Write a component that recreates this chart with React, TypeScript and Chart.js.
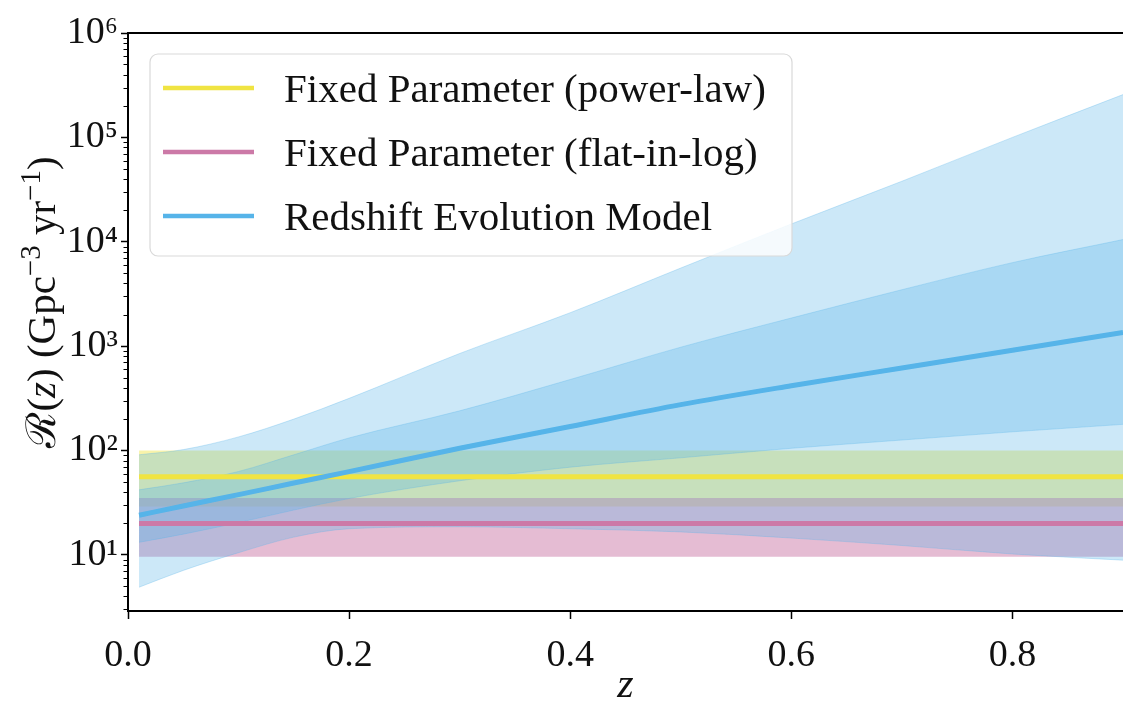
import React, { useEffect, useRef } from 'react';
import { Chart, registerables } from 'chart.js';

Chart.register(...registerables);

// ---------- data ----------
const zGrid = [0.01, 0.05, 0.1, 0.15, 0.2, 0.3, 0.4, 0.5, 0.6, 0.7, 0.8, 0.9];

const powerLawMedian = [56, 56, 56, 56, 56, 56, 56, 56, 56, 56, 56, 56];
const powerLawLow = [29, 29, 29, 29, 29, 29, 29, 29, 29, 29, 29, 29];
const powerLawHigh = [100, 100, 100, 100, 100, 100, 100, 100, 100, 100, 100, 100];

const flatLogMedian = [20, 20, 20, 20, 20, 20, 20, 20, 20, 20, 20, 20];
const flatLogLow = [9.6, 9.6, 9.6, 9.6, 9.6, 9.6, 9.6, 9.6, 9.6, 9.6, 9.6, 9.6];
const flatLogHigh = [35, 35, 35, 35, 35, 35, 35, 35, 35, 35, 35, 35];

const redshiftMedian = [24, 29.4, 37.8, 48.8, 62.8, 105, 170, 275, 417, 617, 912, 1350];
const redshiftInnerLow = [13.2, 15.8, 20.4, 26.9, 34.7, 51.3, 69.2, 85.1, 105, 126, 151, 178];
const redshiftInnerHigh = [42, 49, 63, 91, 132, 240, 479, 977, 1860, 3470, 6310, 10500];
const redshiftOuterLow = [4.9, 7.1, 10.5, 14.8, 17.8, 18.6, 17.8, 16.6, 14.5, 12.3, 10.2, 8.9];
const redshiftOuterHigh = [91, 102, 135, 200, 316, 850, 2090, 5600, 14800, 38000, 100000, 257000];

const seriesNames = [
  'Fixed Parameter (power-law)',
  'Fixed Parameter (flat-in-log)',
  'Redshift Evolution Model',
];

const xTickValues = [0, 0.2, 0.4, 0.6, 0.8];
const yMajorTickValues = [10, 100, 1000, 10000, 100000, 1000000];
const yMinorMultipliers = [2, 3, 4, 5, 6, 7, 8, 9];
const yMinorDecades = [1, 10, 100, 1000, 10000, 100000];

const xTitle = 'z';
// y-axis title pieces: [text, kind] where kind: n = normal, i = italic, s = superscript
const yTitleParts: [string, string][] = [
  ['ℛ', 'n'], ['(', 'n'], ['z', 'i'], [') (Gpc', 'n'], ['−3', 's'], [' yr', 'n'], ['−1', 's'], [')', 'n'],
];

// ---------- styles ----------
const YELLOW = '#F0E442';
const PINK = '#CC79A7';
const BLUE = '#56B4E9';
const yellowFill = 'rgba(240,228,66,0.45)';
const pinkFill = 'rgba(204,121,167,0.5)';
const blueFill = 'rgba(86,180,233,0.3)';
const FONT = "'Liberation Serif', 'Times New Roman', 'DejaVu Serif', serif";

const SUP: Record<string, string> = {
  '0': '⁰', '1': '¹', '2': '²', '3': '³', '4': '⁴', '5': '⁵', '6': '⁶', '7': '⁷', '8': '⁸', '9': '⁹', '-': '⁻',
};
const toSup = (s: string) => s.split('').map((c) => SUP[c] || c).join('');

const pts = (vals: number[]) => zGrid.map((z, i) => ({ x: z, y: vals[i] }));

const extrasPlugin = {
  id: 'extras',
  afterDraw(chart: any) {
    const { ctx, chartArea } = chart;
    const ys = chart.scales.y;
    ctx.save();
    // minor ticks
    ctx.strokeStyle = '#000';
    ctx.lineWidth = 1;
    for (const d of yMinorDecades) {
      for (const m of yMinorMultipliers) {
        const v = d * m;
        if (v < ys.min || v > ys.max) continue;
        const p = Math.round(ys.getPixelForValue(v)) + 0.5;
        ctx.beginPath();
        ctx.moveTo(chartArea.left - 4.5, p);
        ctx.lineTo(chartArea.left, p);
        ctx.stroke();
      }
    }
    // top spine
    ctx.lineWidth = 2;
    ctx.beginPath();
    ctx.moveTo(chartArea.left - 1, chartArea.top);
    ctx.lineTo(chartArea.right, chartArea.top);
    ctx.stroke();

    // y-axis title (rotated, mixed styles)
    const fontFor = (k: string) =>
      k === 'i' ? `italic 41px ${FONT}` : k === 's' ? `29px ${FONT}` : `41px ${FONT}`;
    let total = 0;
    for (const [t, k] of yTitleParts) { ctx.font = fontFor(k); total += ctx.measureText(t).width; }
    ctx.translate(42, 302);
    ctx.rotate(-Math.PI / 2);
    ctx.fillStyle = '#111';
    ctx.textBaseline = 'alphabetic';
    ctx.textAlign = 'left';
    let cx = -total / 2;
    for (const [t, k] of yTitleParts) {
      ctx.font = fontFor(k);
      ctx.fillText(t, cx, k === 's' ? 13 - 15 : 13);
      cx += ctx.measureText(t).width;
    }
    ctx.setTransform(1, 0, 0, 1, 0, 0);

    // legend
    const bx = chartArea.left + 22;
    const by = chartArea.top + 21;
    const bw = 642;
    const bh = 202;
    const r = 8;
    ctx.beginPath();
    ctx.moveTo(bx + r, by);
    ctx.lineTo(bx + bw - r, by);
    ctx.arcTo(bx + bw, by, bx + bw, by + r, r);
    ctx.lineTo(bx + bw, by + bh - r);
    ctx.arcTo(bx + bw, by + bh, bx + bw - r, by + bh, r);
    ctx.lineTo(bx + r, by + bh);
    ctx.arcTo(bx, by + bh, bx, by + bh - r, r);
    ctx.lineTo(bx, by + r);
    ctx.arcTo(bx, by, bx + r, by, r);
    ctx.closePath();
    ctx.fillStyle = 'rgba(255,255,255,0.82)';
    ctx.fill();
    ctx.strokeStyle = '#d9d9d9';
    ctx.lineWidth = 1.2;
    ctx.stroke();

    const colors = [YELLOW, PINK, BLUE];
    ctx.font = `41px ${FONT}`;
    ctx.textBaseline = 'alphabetic';
    ctx.textAlign = 'left';
    seriesNames.forEach((name, i) => {
      const ly = by + 34 + i * 64;
      ctx.strokeStyle = colors[i];
      ctx.lineWidth = 4.5;
      ctx.beginPath();
      ctx.moveTo(bx + 13, ly);
      ctx.lineTo(bx + 104, ly);
      ctx.stroke();
      ctx.fillStyle = '#111';
      ctx.fillText(name, bx + 134, ly + 14);
    });
    ctx.restore();
  },
};

export default function App() {
  const ref = useRef<HTMLCanvasElement | null>(null);

  useEffect(() => {
    if (!ref.current) return;
    const lineCommon = { pointRadius: 0, cubicInterpolationMode: 'monotone' as const };
    const datasets: any[] = [
      { ...lineCommon, label: seriesNames[2], data: pts(redshiftMedian), borderColor: BLUE, borderWidth: 5, fill: false, order: 1 },
      { ...lineCommon, label: seriesNames[1], data: pts(flatLogMedian), borderColor: PINK, borderWidth: 5, fill: false, order: 2 },
      { ...lineCommon, label: seriesNames[0], data: pts(powerLawMedian), borderColor: YELLOW, borderWidth: 5, fill: false, order: 3 },
      // blue inner band
      { ...lineCommon, label: 'inner-high', data: pts(redshiftInnerHigh), borderColor: blueFill, borderWidth: 1, backgroundColor: blueFill, fill: 4, order: 4 },
      { ...lineCommon, label: 'inner-low', data: pts(redshiftInnerLow), borderColor: blueFill, borderWidth: 1, fill: false, order: 5 },
      // blue outer band
      { ...lineCommon, label: 'outer-high', data: pts(redshiftOuterHigh), borderColor: blueFill, borderWidth: 1, backgroundColor: blueFill, fill: 6, order: 6 },
      { ...lineCommon, label: 'outer-low', data: pts(redshiftOuterLow), borderColor: blueFill, borderWidth: 1, fill: false, order: 7 },
      // pink band
      { ...lineCommon, label: 'pink-high', data: pts(flatLogHigh), borderColor: 'rgba(0,0,0,0)', borderWidth: 0, backgroundColor: pinkFill, fill: 8, order: 8 },
      { ...lineCommon, label: 'pink-low', data: pts(flatLogLow), borderColor: 'rgba(0,0,0,0)', borderWidth: 0, fill: false, order: 9 },
      // yellow band
      { ...lineCommon, label: 'yellow-high', data: pts(powerLawHigh), borderColor: 'rgba(0,0,0,0)', borderWidth: 0, backgroundColor: yellowFill, fill: 10, order: 10 },
      { ...lineCommon, label: 'yellow-low', data: pts(powerLawLow), borderColor: 'rgba(0,0,0,0)', borderWidth: 0, fill: false, order: 11 },
    ];

    const chart = new Chart(ref.current, {
      type: 'line',
      data: { datasets },
      plugins: [extrasPlugin],
      options: {
        animation: false,
        responsive: false,
        devicePixelRatio: 1,
        layout: { padding: { top: 33, left: 0, right: 0, bottom: 0 } },
        plugins: { legend: { display: false }, tooltip: { enabled: false } },
        scales: {
          x: {
            type: 'linear',
            min: 0,
            max: 0.9,
            afterFit: (s: any) => { s.height = 96; },
            afterBuildTicks: (s: any) => { s.ticks = xTickValues.map((v) => ({ value: v })); },
            ticks: {
              callback: (v: any) => Number(v).toFixed(1),
              font: { family: FONT, size: 38 },
              color: '#111',
              padding: 14,
              maxRotation: 0,
              autoSkip: false,
            },
            grid: { drawOnChartArea: false, drawTicks: true, tickLength: 8, tickColor: '#000', tickWidth: 1.5 },
            border: { display: true, color: '#000', width: 2 },
            title: { display: true, text: xTitle, font: { family: FONT, size: 42, style: 'italic', lineHeight: 1 }, color: '#111', padding: { top: 0, bottom: 0 } },
          },
          y: {
            type: 'logarithmic',
            min: 2.9,
            max: 1000000,
            afterFit: (s: any) => { s.width = 128; },
            afterBuildTicks: (s: any) => { s.ticks = yMajorTickValues.map((v) => ({ value: v, major: true })); },
            ticks: {
              callback: (v: any) => '10' + toSup(String(Math.round(Math.log10(Number(v))))),
              font: { family: FONT, size: 38 },
              color: '#111',
              padding: 3,
              autoSkip: false,
            },
            grid: { drawOnChartArea: false, drawTicks: true, tickLength: 7, tickColor: '#000', tickWidth: 1.5 },
            border: { display: true, color: '#000', width: 2 },
            title: { display: false },
          },
        },
      } as any,
    });
    return () => chart.destroy();
  }, []);

  return (
    <div style={{ position: 'absolute', left: 0, top: 0, width: 1123, height: 707, background: '#fff' }}>
      <canvas ref={ref} width={1123} height={707} style={{ width: 1123, height: 707, display: 'block' }} />
    </div>
  );
}
